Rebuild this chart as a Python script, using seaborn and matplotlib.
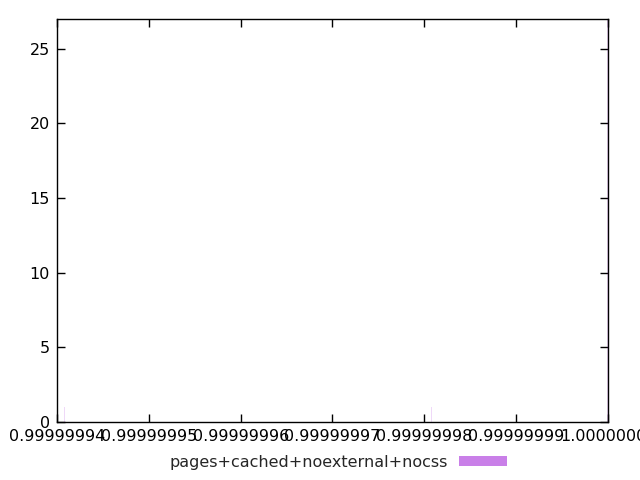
import numpy as np
import pandas as pd
import seaborn as sns
import matplotlib
matplotlib.use('Agg')
import matplotlib.pyplot as plt
from matplotlib.patches import Patch

# hit ratio values and their counts
ratio = [0.9999999408, 0.9999999808, 1.0]
count = [1, 1, 27]
series = 'pages+cached+noexternal+nocss'
xtick_vals = [0.99999994, 0.99999995, 0.99999996, 0.99999997, 0.99999998, 0.99999999, 1.0]
xtick_labels = ['0.99999994', '0.99999995', '0.99999996', '0.99999997',
                '0.99999998', '0.99999999', '1.00000000']
ytick_vals = [0, 5, 10, 15, 20, 25]

df = pd.DataFrame({'ratio': ratio, 'count': count})

sns.set_style('ticks')
plt.rcParams['font.family'] = ['DejaVu Sans']

fig = plt.figure(figsize=(6.4, 4.8), dpi=100)
ax = fig.add_axes([0.089, 0.121, 0.861, 0.8395])

bar_color = (0x94 / 255, 0x00 / 255, 0xd3 / 255, 0.5)
faint = (0x94 / 255, 0x00 / 255, 0xd3 / 255, 0.15)
ax.bar(df['ratio'], df['count'], width=1.6e-10, color=faint, linewidth=0)

ax.set_xlim(0.99999994, 1.0)
ax.set_ylim(0, 27)
ax.set_xticks(xtick_vals)
ax.set_xticklabels(xtick_labels)
ax.set_yticks(ytick_vals)
ax.tick_params(direction='in', top=True, right=True, length=6, width=1,
               labelsize=11.5, colors='black', pad=5)
for s in ax.spines.values():
    s.set_visible(True)
    s.set_color('black')
    s.set_linewidth(1)

handle = Patch(facecolor=bar_color, edgecolor='none')
fig.legend([handle], [series], loc='center', bbox_to_anchor=(0.528, 0.0375),
           frameon=False, markerfirst=False, fontsize=11.5,
           handlelength=3.0, handleheight=0.6, handletextpad=0.7)

fig.savefig('out.png', dpi=100)
